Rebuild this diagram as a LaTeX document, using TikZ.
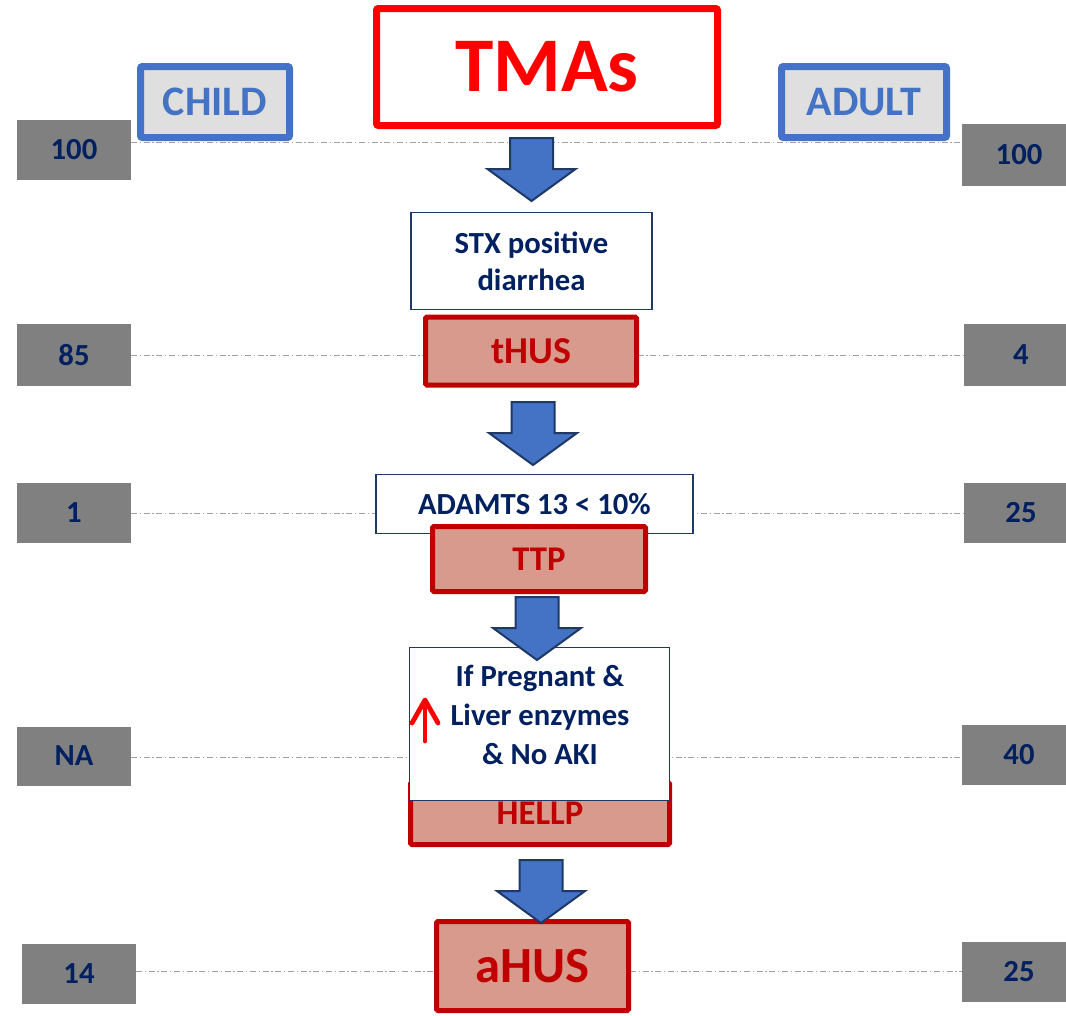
\documentclass[tikz,border=0pt]{standalone}
\usepackage{fontspec}
\setmainfont{Carlito}
\usetikzlibrary{calc}

\definecolor{navy}{RGB}{0,32,96}
\definecolor{darkred}{RGB}{192,0,0}
\definecolor{dxfill}{RGB}{216,154,141}
\definecolor{hdrblue}{RGB}{68,114,196}
\definecolor{hdrfill}{RGB}{223,223,223}
\definecolor{arrowblue}{RGB}{68,114,196}
\definecolor{arrowline}{RGB}{31,56,100}
\definecolor{countgrey}{RGB}{128,128,128}
\definecolor{guidegrey}{RGB}{160,160,160}

\tikzset{
  size/.style 2 args={minimum width=#1*0.75pt, minimum height=#2*0.75pt},
  base/.style={rectangle, inner sep=0pt, outer sep=0pt},
  countbox/.style={base, fill=countgrey, text=navy,
    font=\fontsize{23}{28}\selectfont\bfseries},
  headbox/.style={base, draw=hdrblue, line width=5.25pt, fill=hdrfill,
    text=hdrblue, rounded corners=1.5pt,
    font=\fontsize{31.5}{36}\selectfont\bfseries},
  infobox/.style={base, draw=arrowline, line width=1.1pt, fill=white,
    text=navy, align=center, font=\fontsize{23}{28}\selectfont\bfseries},
  dxbox/.style={base, draw=darkred, line width=3.75pt, fill=dxfill,
    text=darkred, rounded corners=1pt},
  guide/.style={draw=guidegrey, line width=0.75pt,
    dash pattern=on 4.5pt off 2pt on 1pt off 2pt},
  flowarrow/.pic={
    \draw[fill=arrowblue, draw=arrowline, line width=1.5pt, line join=miter]
      (-21.5,0) -- (21.5,0) -- (21.5,31) -- (44,31) -- (0,63)
      -- (-44,31) -- (-21.5,31) -- cycle;
  }
}

\begin{document}
\begin{tikzpicture}[x=0.75pt, y=-0.75pt]
\useasboundingbox (0,0) rectangle (1066,1015);

% age-group percentage boxes
\node[countbox, size={114}{60}] (c100) at (74,150) {100};
\node[countbox, size={114}{62}] (a100) at (1019,155) {100};
\node[countbox, size={114}{62}] (c85) at (74,355) {85};
\node[countbox, size={114}{62}] (a4) at (1021,355) {4};
\node[countbox, size={114}{60}] (c1) at (74,513) {1};
\node[countbox, size={114}{60}] (a25) at (1021,513) {25};
\node[countbox, size={114}{59}] (cna) at (74,756) {NA};
\node[countbox, size={114}{60}] (a40) at (1019,755) {40};
\node[countbox, size={114}{60}] (c14) at (79,974) {14};
\node[countbox, size={114}{60}] (a25b) at (1019,972) {25};

% guide lines between the two columns
\coordinate (g1) at (0,142);
\draw[guide] (c100.east |- g1) -- (a100.west |- g1);
\draw[guide] (c85.east) -- (c85.east -| a4.west);
\draw[guide] (c1.east) -- (c1.east -| a25.west);
\coordinate (g4) at (0,757);
\draw[guide] (cna.east |- g4) -- (a40.west |- g4);
\coordinate (g5) at (0,971);
\draw[guide] (c14.east |- g5) -- (a25b.west |- g5);

% column headers
\node[headbox, size={149}{71}] (child) at (215,102) {\raisebox{-2pt}{CHILD}};
\node[headbox, size={165}{71}] (adult) at (864,102) {\raisebox{-2pt}{ADULT}};

% title
\node[base, draw=red, line width=5.25pt, fill=white, rounded corners=1.5pt,
  text=red, font=\fontsize{58}{64}\selectfont\bfseries, size={341}{117}]
  (tmas) at (547,67) {TMAs};

% diagnostic steps
\node[infobox, size={241}{97}] (stx) at (531.5,261) {STX positive\\diarrhea};
\node[dxbox, size={211}{68}, font=\fontsize{28.5}{32}\selectfont\bfseries]
  (thus) at (531,351) {tHUS};

\node[infobox, size={317}{58.5}] (adamts) at (534.5,504) {ADAMTS 13 < 10\%};
\node[dxbox, size={213}{65}, font=\fontsize{26}{30}\selectfont\bfseries]
  (ttp) at (539,559) {TTP};

\node[dxbox, size={259}{62}, font=\fontsize{26}{30}\selectfont\bfseries]
  (hellp) at (540,813.5) {\raisebox{-4pt}{HELLP}};
\node[infobox, size={259.5}{152.5}] (preg) at (539.5,724) {};
\node[base, text=navy, align=center, font=\fontsize{23}{29}\selectfont\bfseries]
  (pregtxt) at (540,715) {If Pregnant \&\\Liver enzymes\\\& No AKI};
% raised-value mark beside the liver enzymes line
\draw[red, line width=3.6pt, line cap=round, line join=round]
  (412,723) -- (425,700) -- (438,723);
\draw[red, line width=3.6pt, line cap=round] (425,702) -- (425,741);

\node[dxbox, size={192}{89}, font=\fontsize{38}{42}\selectfont\bfseries]
  (ahus) at (532.5,966) {aHUS};

% flow arrows
\pic at (531.5,138) {flowarrow};
\pic at (533,402) {flowarrow};
\pic at (537,597) {flowarrow};
\pic at (541,860) {flowarrow};
\end{tikzpicture}
\end{document}
